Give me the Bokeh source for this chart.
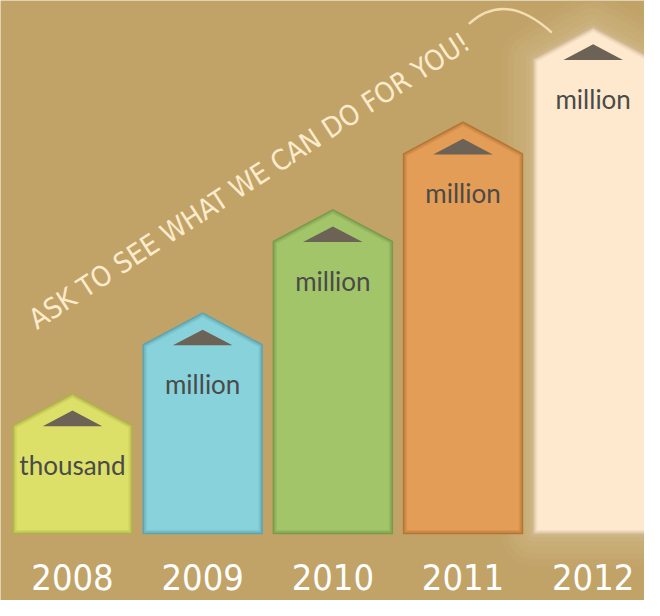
import numpy as np
from bokeh.plotting import figure
from bokeh.models import ColumnDataSource, Range1d
from bokeh.core.properties import value
from bokeh.embed import file_html
from bokeh.resources import INLINE

# ---------------- data ----------------
years = ["2008", "2009", "2010", "2011", "2012"]
bar_heights = [112, 195, 301, 391, 488]          # body height of each house-bar
unit_labels = ["thousand", "million", "million", "million", "million"]
bar_colors = ["#DCE069", "#88D2DC", "#A3C56A", "#E49D56", "#FEE9CE"]
shadow_colors = ["#AFB24A", "#5FA3AD", "#7A9A4B", "#B47636", "#D6BE9F"]
headline = "ASK TO SEE WHAT WE CAN DO FOR YOU!"

# ---------------- layout constants ----------------
W, H = 644, 600
BG = "#C1A368"
STEP = 133.4                 # spacing between bars (reference px)
C0 = 73.8                    # centre of first bar (reference px)
BASE = 548                   # bar bottom (reference px from top)
X0, X1 = -C0 / STEP, (660 - C0) / STEP
Y0, Y1 = BASE - 616, BASE
HW = 61.7                    # half bar width (reference px)
ROOF = 33                    # roof height
SLOPE = ROOF / HW
COND = value("DejaVu Sans Condensed, Liberation Sans Narrow, Roboto, sans-serif")

n = len(years)
xc = np.arange(n, dtype=float)


def house(i, h, d=0.0):
    """Pentagon (house) shape for bar i, inset by d pixels."""
    hw = HW - d
    apex = h + ROOF - d * np.sqrt(1 + SLOPE ** 2)
    shoulder = apex - SLOPE * hw
    xs = [i - hw / STEP, i - hw / STEP, i, i + hw / STEP, i + hw / STEP]
    ys = [d, shoulder, apex, shoulder, d]
    return xs, ys


p = figure(width=W, height=H, x_range=Range1d(X0, X1), y_range=Range1d(Y0, Y1),
           output_backend="svg", toolbar_location=None, min_border=0,
           x_axis_type=None, y_axis_type=None,
           background_fill_color=BG, border_fill_color=BG, outline_line_color=None)
p.grid.visible = False

# soft glow around the last (highlighted) bar
gx, gy = house(xc[-1], bar_heights[-1])
for lw, a in [(64, 0.04), (50, 0.05), (38, 0.05), (26, 0.06), (14, 0.07), (6, 0.08)]:
    p.patch(gx, gy, fill_alpha=0, line_color="#F4E2C2", line_alpha=a,
            line_width=lw, line_join="round")


def mix(c1, c2, t):
    a = np.array([int(c1[k:k + 2], 16) for k in (1, 3, 5)], dtype=float)
    b = np.array([int(c2[k:k + 2], 16) for k in (1, 3, 5)], dtype=float)
    m = np.round(a * (1 - t) + b * t).astype(int)
    return "#%02X%02X%02X" % tuple(m)


# bars with an inner shadow: darker outer shape, progressively inset lighter shapes
layers = [(0.0, 0.0), (1.5, 0.45), (3.0, 0.75), (4.5, 1.0)]
for d, t in layers:
    xs, ys, cols = [], [], []
    for i in range(n):
        hx, hy = house(xc[i], bar_heights[i], d)
        xs.append(hx)
        ys.append(hy)
        cols.append(mix(shadow_colors[i], bar_colors[i], t))
    p.patches(xs="xs", ys="ys", fill_color="cols", line_color=None,
              source=ColumnDataSource(dict(xs=xs, ys=ys, cols=cols)))

# small dark triangles inside the roofs
tw = 30.5 / STEP
tri_x = [[x - tw, x, x + tw] for x in xc]
tri_y = [[h + ROOF - 34, h + ROOF - 18, h + ROOF - 34] for h in bar_heights]
p.patches(xs=tri_x, ys=tri_y, fill_color="#6C6256", line_color=None)

# unit labels
lab_src = ColumnDataSource(dict(x=xc, y=[h + ROOF - 74 for h in bar_heights],
                                t=unit_labels))
p.text(x="x", y="y", text="t", source=lab_src, text_font=value("Lato"),
       text_font_size="26px", text_color="#4A4A48", text_align="center",
       text_baseline="middle")

# year labels
yr_src = ColumnDataSource(dict(x=xc, y=[BASE - 592] * n, t=years))
p.text(x="x", y="y", text="t", source=yr_src, text_font=COND,
       text_font_size="36px", text_color="#FFFFFF", text_align="center",
       text_baseline="middle")

# diagonal headline
p.text(x=[(255 - C0) / STEP], y=[BASE - 185], text=[headline], angle=33,
       angle_units="deg", text_font=COND, text_font_size="28px",
       text_color="#FDEBCD", text_align="center", text_baseline="middle")


# curved swoosh
def rx(px):
    return (px - C0) / STEP


def ry(py):
    return BASE - py


p.quadratic(x0=[rx(480)], y0=[ry(24)], x1=[rx(565)], y1=[ry(33)],
            cx=[rx(517.5)], cy=[ry(-10.5)], line_color="#F3DDB2", line_width=2.5)

open("out.html", "w").write(file_html(p, INLINE))
